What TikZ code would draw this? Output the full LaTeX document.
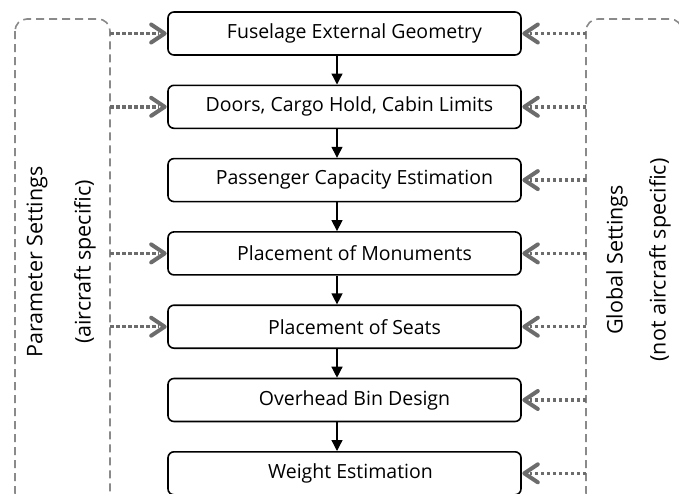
\documentclass[tikz,border=0pt]{standalone}
\usepackage{fontspec}
\setmainfont{Open Sans}
\usetikzlibrary{arrows.meta}
\definecolor{dashgray}{HTML}{8A8A8A}
\definecolor{arrgray}{HTML}{6C6C6C}
\tikzset{
  stepbox/.style={draw=black,line width=1.6pt,rounded corners=6pt,minimum width=353pt,minimum height=43pt,inner sep=0pt},
  lbl/.style={font=\fontsize{19.5}{22}\selectfont,inner sep=0pt},
  sidelbl/.style={font=\fontsize{21.5}{24}\selectfont,inner sep=0pt,rotate=90},
  frame/.style={draw=dashgray,line width=1.6pt,dash pattern=on 8pt off 5pt,rounded corners=12pt},
  flow/.style={line width=1.3pt,-{Triangle[length=11pt,width=11pt]}},
  feed/.style={draw=arrgray,line width=3.5pt,dash pattern=on 3.5pt off 2.5pt},
  chev/.style={draw=arrgray,line width=4pt,line cap=round,line join=round}
}
\begin{document}
\begin{tikzpicture}[x=1pt,y=-1pt]
\useasboundingbox (0,0) rectangle (679,493);
% frames
\draw[frame] (15,19) rectangle (110,505);
\draw[frame] (586,19) rectangle (682,505);
\node[sidelbl] (pset) at (37,262) {Parameter Settings};
\node[sidelbl] (pspec) at (85,262) {(aircraft specific)};
\node[sidelbl] (gset) at (617,260) {Global Settings};
\node[sidelbl] (gspec) at (660,260) {(not aircraft specific)};
% boxes
\node[stepbox] (b1) at (344.5,33.5) {};
\node[stepbox] (b2) at (344.5,106.8) {};
\node[stepbox] (b3) at (344.5,180.1) {};
\node[stepbox] (b4) at (344.5,253.4) {};
\node[stepbox] (b5) at (344.5,326.7) {};
\node[stepbox] (b6) at (344.5,400) {};
\node[stepbox] (b7) at (344.5,473.3) {};
\node[lbl] (t1) at ([xshift=10pt]b1.center) {Fuselage External Geometry};
\node[lbl] (t2) at ([xshift=5pt]b2.center) {Doors, Cargo Hold, Cabin Limits};
\node[lbl] (t3) at ([xshift=10pt]b3.center) {Passenger Capacity Estimation};
\node[lbl] (t4) at ([xshift=10pt]b4.center) {Placement of Monuments};
\node[lbl] (t5) at ([xshift=10pt]b5.center) {Placement of Seats};
\node[lbl] (t6) at ([xshift=10pt]b6.center) {Overhead Bin Design};
\node[lbl] (t7) at ([xshift=6pt]b7.center) {Weight Estimation};
% flow arrows
\foreach \a/\b in {b1/b2,b2/b3,b3/b4,b4/b5,b5/b6,b6/b7}
  \draw[flow] ([xshift=-7.5pt]\a.south) -- ([xshift=-7.5pt]\b.north);
% feed arrows
\coordinate (xl) at (110,0);
\coordinate (xr) at (586,0);
\foreach \b in {b1,b2,b4,b5} {
  \coordinate (L\b) at (\b.west -| xl);
  \draw[feed] (L\b) -- ([xshift=-8pt]\b.west);
  \draw[chev] ([shift={(-16pt,-9pt)}]\b.west) -- ([xshift=-2.5pt]\b.west) -- ([shift={(-16pt,9pt)}]\b.west);
}
\foreach \b in {b1,b2,b3,b4,b5,b6,b7} {
  \coordinate (R\b) at (\b.east -| xr);
  \draw[feed] (R\b) -- ([xshift=8pt]\b.east);
  \draw[chev] ([shift={(16pt,-9pt)}]\b.east) -- ([xshift=2.5pt]\b.east) -- ([shift={(16pt,9pt)}]\b.east);
}
\end{tikzpicture}
\end{document}
